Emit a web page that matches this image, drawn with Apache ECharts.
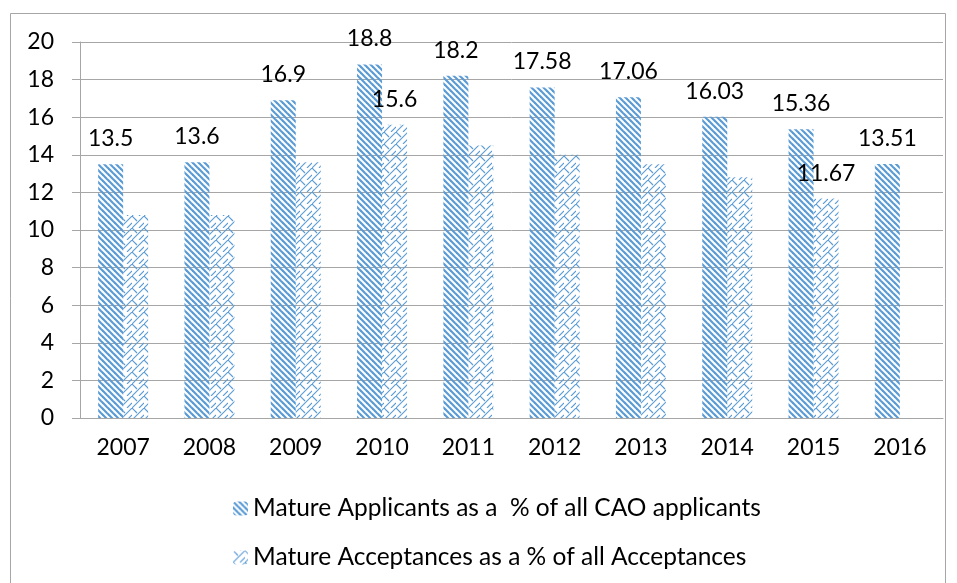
<!DOCTYPE html>
<html>
<head>
<meta charset="utf-8">
<script src="https://cdn.jsdelivr.net/npm/echarts@6/dist/echarts.min.js"></script>
<style>
html,body{margin:0;padding:0;background:#fff;}
#chart{width:957px;height:583px;}
</style>
</head>
<body>
<div id="chart"></div>
<script>
var years = ['2007','2008','2009','2010','2011','2012','2013','2014','2015','2016'];
var applicants = [13.5, 13.6, 16.9, 18.8, 18.2, 17.58, 17.06, 16.03, 15.36, 13.51];
var acceptances = [10.8, 10.8, 13.6, 15.6, 14.5, 14.0, 13.5, 12.8, 11.67, null];
var labelledAcceptanceYears = ['2010', '2015'];
var seriesNames = ['Mature Applicants as a  % of all CAO applicants', 'Mature Acceptances as a % of all Acceptances'];

var BLUE = '#5B9BD5';
var FONT = 'Lato';

function stripePattern() {
  var c = document.createElement('canvas');
  c.width = 6; c.height = 6;
  var g = c.getContext('2d');
  g.strokeStyle = BLUE; g.lineWidth = 2.2;
  for (var k = -1; k <= 1; k++) {
    g.beginPath(); g.moveTo(k * 6 - 2, -2); g.lineTo(k * 6 + 8, 8); g.stroke();
  }
  return c;
}
function zigPattern() {
  var c = document.createElement('canvas');
  c.width = 12; c.height = 12;
  var g = c.getContext('2d');
  g.strokeStyle = BLUE; g.lineWidth = 1.1;
  g.beginPath(); g.moveTo(-1, 13); g.lineTo(13, -1); g.stroke();
  g.beginPath(); g.moveTo(0, 0); g.lineTo(5, 5); g.stroke();
  g.beginPath(); g.moveTo(7, 12); g.lineTo(12, 7); g.stroke();
  return c;
}

var accData = acceptances.map(function (v, i) {
  return {
    value: v,
    label: { show: labelledAcceptanceYears.indexOf(years[i]) >= 0 }
  };
});

var chart = echarts.init(document.getElementById('chart'), null, { renderer: 'canvas' });
var labelStyle = { position: 'top', distance: 14, fontSize: 23, color: '#000', fontFamily: FONT };
chart.setOption({
  animation: false,
  backgroundColor: '#fff',
  textStyle: { fontFamily: FONT },
  graphic: [{
    type: 'rect', shape: { x: 10.5, y: 13.5, width: 935, height: 600 },
    style: { fill: null, stroke: '#A6A6A6', lineWidth: 1 }, z: -1
  }],
  grid: { left: 80, right: 14, top: 42, bottom: 165, containLabel: false },
  legend: {
    orient: 'vertical', left: 228, top: 491, itemWidth: 15, itemHeight: 14, itemGap: 24,
    textStyle: { fontSize: 24.5, color: '#000', fontFamily: FONT },
    data: seriesNames
  },
  xAxis: {
    type: 'category', data: years,
    axisLine: { lineStyle: { color: '#A6A6A6' } },
    axisTick: { length: 6, lineStyle: { color: '#A6A6A6' } },
    axisLabel: { fontSize: 23, color: '#000', margin: 18, fontFamily: FONT }
  },
  yAxis: {
    type: 'value', min: 0, max: 20, interval: 2,
    axisLine: { show: true, lineStyle: { color: '#A6A6A6' } },
    axisTick: { show: true, length: 8, lineStyle: { color: '#A6A6A6' } },
    splitLine: { lineStyle: { color: '#A6A6A6' } },
    axisLabel: { fontSize: 23, color: '#000', margin: 26, fontFamily: FONT }
  },
  series: [{
    name: seriesNames[0], type: 'bar', data: applicants, barWidth: 25, barGap: '0%',
    itemStyle: { color: { image: stripePattern(), repeat: 'repeat' } },
    label: Object.assign({ show: true }, labelStyle)
  }, {
    name: seriesNames[1], type: 'bar', data: accData, barWidth: 25, barGap: '0%',
    itemStyle: { color: { image: zigPattern(), repeat: 'repeat' } },
    label: labelStyle
  }]
});
</script>
</body>
</html>
